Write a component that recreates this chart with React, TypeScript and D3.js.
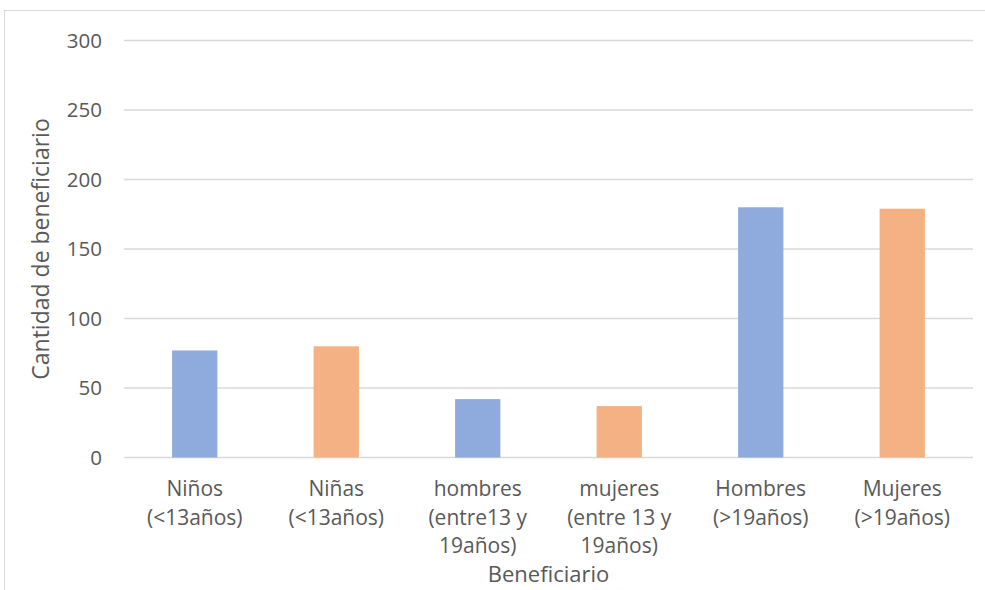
import { useRef, useEffect } from "react";
import * as d3 from "d3";

// categories (line breaks as in the original axis labels)
const categories = [
  "Niños\n(<13años)",
  "Niñas\n(<13años)",
  "hombres\n(entre13 y\n19años)",
  "mujeres\n(entre 13 y\n19años)",
  "Hombres\n(>19años)",
  "Mujeres\n(>19años)",
];
const values = [77, 80, 42, 37, 180, 179];
const barColors = ["#8FAADC", "#F4B183", "#8FAADC", "#F4B183", "#8FAADC", "#F4B183"];
const yTicks = [0, 50, 100, 150, 200, 250, 300];

const App = () => {
  const svgRef = useRef<SVGSVGElement>(null);
  const width = 985;
  const height = 590;

  useEffect(() => {
    const svg = d3.select(svgRef.current);
    svg.selectAll("*").remove();

    const font = "'Open Sans', sans-serif";
    const left = 124, right = 973, top = 40.5, bottom = 457.5;

    // chart area border
    svg.append("rect")
      .attr("x", 4.5).attr("y", 10.5)
      .attr("width", 1000).attr("height", 600)
      .attr("fill", "#fff")
      .attr("stroke", "#d9d9d9");

    const x = d3.scaleBand()
      .domain(categories)
      .range([left, right])
      .padding(0);

    const y = d3.scaleLinear()
      .domain([0, 300])
      .range([bottom, top]);

    // gridlines
    svg.append("g")
      .selectAll("line")
      .data(yTicks)
      .enter()
      .append("line")
      .attr("x1", left).attr("x2", right)
      .attr("y1", d => y(d)).attr("y2", d => y(d))
      .attr("stroke", "#d9d9d9")
      .attr("stroke-width", 1.4);

    // y tick labels
    svg.append("g")
      .selectAll("text")
      .data(yTicks)
      .enter()
      .append("text")
      .attr("x", 102)
      .attr("y", d => y(d))
      .attr("dy", "0.35em")
      .attr("text-anchor", "end")
      .attr("font-family", font)
      .attr("font-size", 20.5)
      .attr("fill", "#595959")
      .text(d => d);

    // bars
    const barW = x.bandwidth() * 0.32;
    svg.append("g")
      .selectAll("rect")
      .data(values)
      .enter()
      .append("rect")
      .attr("x", (d, i) => x(categories[i])! + x.bandwidth() / 2 - barW / 2)
      .attr("y", d => y(d))
      .attr("width", barW)
      .attr("height", d => y(0) - y(d))
      .attr("fill", (d, i) => barColors[i]);

    // category labels
    const labels = svg.append("g")
      .selectAll("text")
      .data(categories)
      .enter()
      .append("text")
      .attr("x", d => x(d)! + x.bandwidth() / 2)
      .attr("y", 496)
      .attr("text-anchor", "middle")
      .attr("font-family", font)
      .attr("font-size", 21)
      .attr("fill", "#595959");
    labels.each(function (d) {
      const t = d3.select(this);
      d.split("\n").forEach((line, i) => {
        t.append("tspan")
          .attr("x", x(d)! + x.bandwidth() / 2)
          .attr("dy", i === 0 ? 0 : 28.5)
          .text(line);
      });
    });

    // axis titles
    svg.append("text")
      .attr("x", (left + right) / 2)
      .attr("y", 582)
      .attr("text-anchor", "middle")
      .attr("font-family", font)
      .attr("font-size", 22)
      .attr("fill", "#595959")
      .text("Beneficiario");

    svg.append("text")
      .attr("transform", `translate(49,${(top + bottom) / 2}) rotate(-90)`)
      .attr("text-anchor", "middle")
      .attr("font-family", font)
      .attr("font-size", 23)
      .attr("fill", "#595959")
      .text("Cantidad de beneficiario");
  }, []);

  return (
    <svg
      ref={svgRef}
      width={width}
      height={height}
      style={{ position: "absolute", left: 0, top: 0, display: "block" }}
    ></svg>
  );
};

export default App;
